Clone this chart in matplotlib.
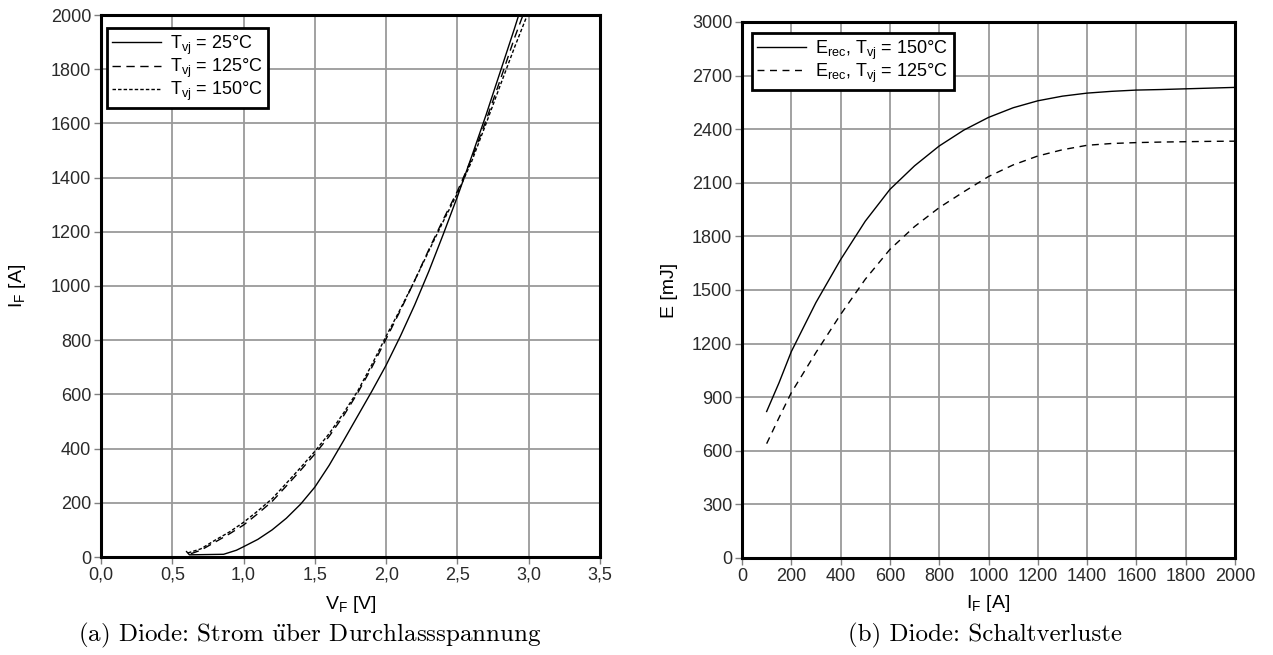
import matplotlib
matplotlib.use("Agg")
import matplotlib.pyplot as plt
from matplotlib.ticker import FuncFormatter

plt.rcParams['font.family'] = ['Liberation Sans', 'DejaVu Sans']
plt.rcParams['mathtext.default'] = 'regular'

# ---- Data: (a) forward characteristic ----
vf_25 = [0.60, 0.62, 0.86, 0.95, 1.0, 1.1, 1.2, 1.3, 1.4, 1.5, 1.6, 1.7, 1.8, 1.9, 2.0, 2.1, 2.2, 2.3, 2.4, 2.5, 2.6, 2.7, 2.8, 2.9, 2.93]
if_25 = [20, 8, 10, 25, 38, 65, 100, 143, 195, 258, 338, 428, 520, 612, 708, 815, 930, 1055, 1190, 1330, 1478, 1630, 1790, 1950, 2000]

vf_125 = [0.63, 0.70, 0.8, 0.9, 1.0, 1.1, 1.2, 1.3, 1.4, 1.5, 1.6, 1.7, 1.8, 1.9, 2.0, 2.1, 2.2, 2.3, 2.4, 2.5, 2.6, 2.7, 2.8, 2.9, 2.96]
if_125 = [12, 25, 55, 85, 118, 160, 205, 262, 320, 380, 445, 520, 605, 700, 805, 910, 1020, 1135, 1245, 1350, 1470, 1610, 1760, 1915, 2000]

vf_150 = [0.61, 0.70, 0.8, 0.9, 1.0, 1.1, 1.2, 1.3, 1.4, 1.5, 1.6, 1.7, 1.8, 1.9, 2.0, 2.1, 2.2, 2.3, 2.4, 2.5, 2.6, 2.7, 2.8, 2.9, 2.99]
if_150 = [15, 30, 62, 92, 128, 170, 215, 272, 330, 390, 455, 530, 612, 710, 815, 915, 1020, 1130, 1238, 1342, 1460, 1598, 1740, 1880, 2000]

# ---- Data: (b) switching losses ----
i_rec = [100, 150, 200, 300, 400, 500, 600, 700, 800, 900, 1000, 1100, 1200, 1300, 1400, 1500, 1600, 1700, 1800, 1900, 2000]
e_150 = [820, 980, 1155, 1430, 1670, 1885, 2063, 2195, 2306, 2395, 2466, 2520, 2559, 2585, 2602, 2612, 2619, 2622, 2626, 2630, 2634]
e_125 = [640, 785, 925, 1150, 1363, 1560, 1727, 1855, 1961, 2050, 2135, 2200, 2250, 2285, 2310, 2320, 2325, 2328, 2330, 2332, 2333]

xticks_a = [0.0, 0.5, 1.0, 1.5, 2.0, 2.5, 3.0, 3.5]
yticks_a = list(range(0, 2001, 200))
xticks_b = list(range(0, 2001, 200))
yticks_b = list(range(0, 3001, 300))

W, H = 1273, 655
fig = plt.figure(figsize=(W / 100, H / 100), dpi=100)

ax1 = fig.add_axes([101 / W, 1 - 557 / H, 499 / W, 542 / H])
ax2 = fig.add_axes([742 / W, 1 - 558 / H, 493 / W, 536 / H])

grid_kw = dict(color='#9a9a9a', linewidth=1.3)
tick_fs = 13
label_fs = 14
leg_fs = 13

def style(ax):
    ax.grid(True, **grid_kw)
    ax.set_axisbelow(True)
    for s in ax.spines.values():
        s.set_linewidth(2.2)
        s.set_color('black')
    ax.tick_params(direction='out', length=5, width=1, color='#808080',
                   labelsize=tick_fs, labelcolor='#2a2a2a', pad=2)

leg_kw = dict(loc='upper left', borderaxespad=0, fontsize=leg_fs, frameon=True,
              fancybox=False, framealpha=1, edgecolor='black', handlelength=2.7,
              handletextpad=0.5, labelspacing=0.0, borderpad=0.3)

# (a)
ax1.plot(vf_25, if_25, color='black', lw=1.0, label=r'T$_{vj}$ = 25°C')
ax1.plot(vf_125, if_125, color='black', lw=1.0, dashes=(6, 4), label=r'T$_{vj}$ = 125°C')
ax1.plot(vf_150, if_150, color='black', lw=1.0, dashes=(2.5, 1.5), label=r'T$_{vj}$ = 150°C')
ax1.set_xlim(0, 3.5)
ax1.set_ylim(0, 2000)
ax1.set_xticks(xticks_a)
ax1.set_yticks(yticks_a)
ax1.xaxis.set_major_formatter(FuncFormatter(lambda v, p: f"{v:.1f}".replace('.', ',')))
style(ax1)
ax1.set_xlabel(r'V$_F$ [V]', fontsize=label_fs)
ax1.set_ylabel(r'I$_F$ [A]', fontsize=label_fs)
ax1.xaxis.set_label_coords(0.5, -0.068)
ax1.yaxis.set_label_coords(-0.146, 0.5)
leg1 = ax1.legend(bbox_to_anchor=(0.012, 0.976), **leg_kw)
leg1.get_frame().set_linewidth(2.0)

# (b)
ax2.plot(i_rec, e_150, color='black', lw=1.0, label=r'E$_{rec}$, T$_{vj}$ = 150°C')
ax2.plot(i_rec, e_125, color='black', lw=1.0, dashes=(5, 4), label=r'E$_{rec}$, T$_{vj}$ = 125°C')
ax2.set_xlim(0, 2000)
ax2.set_ylim(0, 3000)
ax2.set_xticks(xticks_b)
ax2.set_yticks(yticks_b)
style(ax2)
ax2.set_xlabel(r'I$_F$ [A]', fontsize=label_fs)
ax2.set_ylabel('E [mJ]', fontsize=label_fs)
ax2.xaxis.set_label_coords(0.5, -0.066)
ax2.yaxis.set_label_coords(-0.130, 0.5)
leg2 = ax2.legend(bbox_to_anchor=(0.0203, 0.9795), **leg_kw)
leg2.get_frame().set_linewidth(2.0)

cap_font = ['cmr10', 'DejaVu Serif']
cap_a = r'(a) Diode: Strom $\mathrm{\ddot{u}}$ber Durchlassspannung'
cap_b = '(b) Diode: Schaltverluste'
fig.text(310 / W, 1 - 635 / H, cap_a, ha='center', va='center', fontsize=18,
         family=cap_font, math_fontfamily='cm')
fig.text(985 / W, 1 - 635 / H, cap_b, ha='center', va='center', fontsize=18,
         family=cap_font)

fig.savefig('out.png', dpi=100)
